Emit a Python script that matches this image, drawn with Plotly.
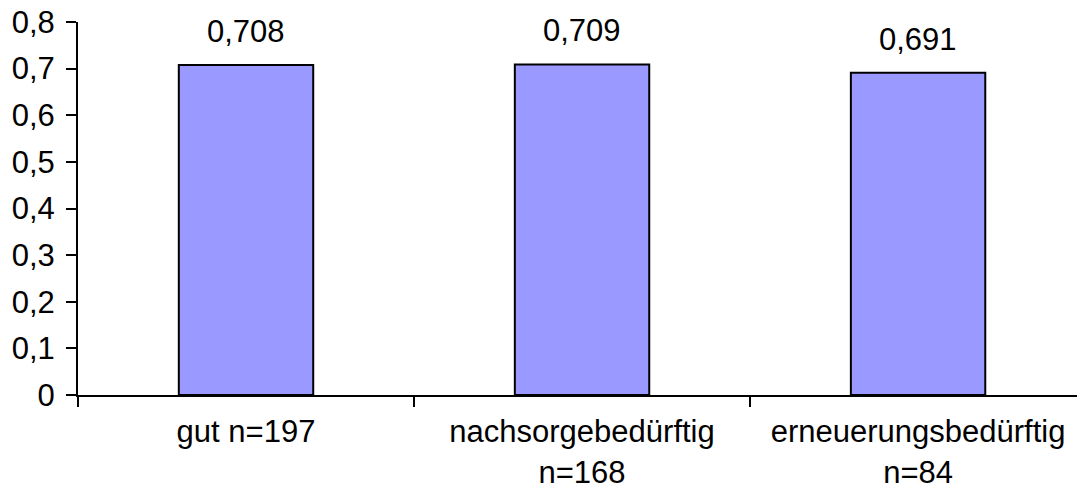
import plotly.graph_objects as go

categories = ["gut n=197", "nachsorgebedürftig<br>n=168", "erneuerungsbedürftig<br>n=84"]
values = [0.708, 0.709, 0.691]
value_labels = ["0,708", "0,709", "0,691"]

FONT = "Liberation Sans, Arial, sans-serif"

fig = go.Figure()
fig.add_trace(go.Bar(
    x=categories,
    y=values,
    marker=dict(color="#9999FF", line=dict(color="black", width=2)),
    showlegend=False,
))

for c, v, t in zip(categories, values, value_labels):
    fig.add_annotation(x=c, y=v, text=t, showarrow=False, yanchor="bottom",
                       yshift=14, font=dict(family=FONT, size=31, color="black"))

fig.update_layout(
    width=1077, height=493,
    margin=dict(l=78, r=0, t=22, b=98),
    paper_bgcolor="white", plot_bgcolor="white",
    bargap=0.6,
    separators=",.",
    font=dict(family=FONT, size=31, color="black"),
)
fig.update_xaxes(
    type="category",
    range=[-0.5, 2.473],
    automargin=False,
    showline=True, linecolor="black", linewidth=2,
    ticks="outside", tickson="boundaries", ticklen=10, tickwidth=2, tickcolor="black",
    showgrid=False, zeroline=False,
    tickfont=dict(family=FONT, size=31, color="black"),
    ticklabelstandoff=8,
)
fig.update_yaxes(
    range=[0, 0.8], dtick=0.1, tick0=0,
    automargin=False,
    showline=True, linecolor="black", linewidth=2,
    ticks="outside", ticklen=10, tickwidth=2, tickcolor="black",
    showgrid=False, zeroline=False,
    tickfont=dict(family=FONT, size=31, color="black"),
    ticklabelstandoff=5,
)

fig.write_html("out.html")
